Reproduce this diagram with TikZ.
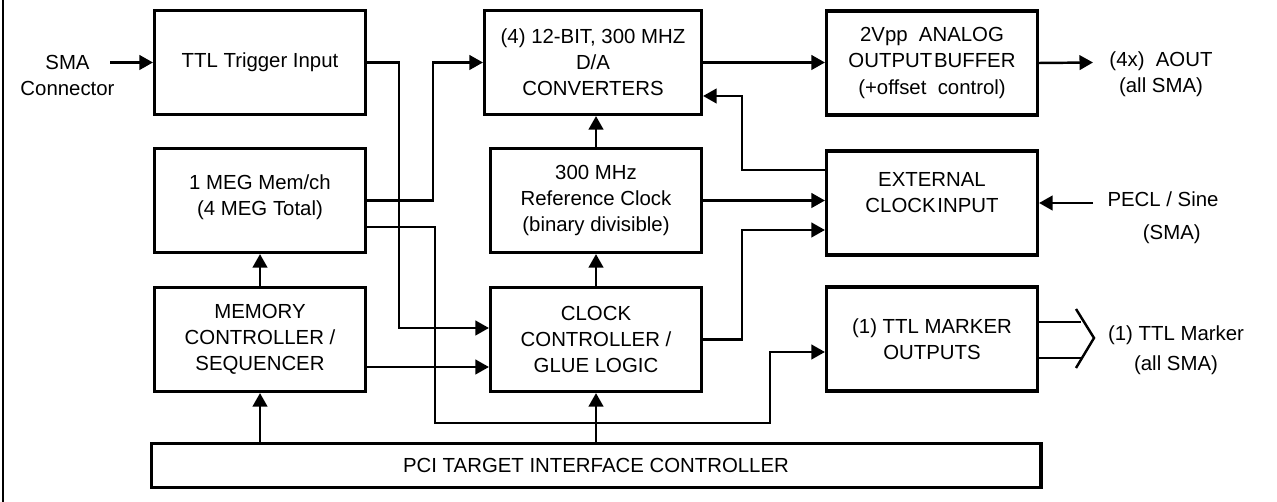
\documentclass[tikz,border=0pt]{standalone}
\usepackage{fontspec}
\setmainfont{Liberation Sans}
\usetikzlibrary{arrows.meta,calc}
\tikzset{
  blk/.style={draw=black,fill=white,line width=1.8pt,align=center,inner sep=2pt,
              minimum width=4.22cm,minimum height=2.08cm,
              font=\fontsize{11.6}{14.8}\selectfont},
  lbl/.style={align=center,inner sep=0pt,font=\fontsize{11.6}{14.8}\selectfont},
  sig/.style={-{Triangle[length=2.7mm,width=2.9mm]},line width=1.4pt},
  wire/.style={line width=1.4pt}
}
\begin{document}
\begin{tikzpicture}[x=0.02cm,y=-0.02cm]
  \useasboundingbox (0,0) rectangle (1277,502);
  \draw[wire] (3,0) -- (3,502);

  % left column
  \node[blk] (trig) at (260,62.5) {TTL Trigger Input};
  \node[blk] (mem) at (260,200.5) {1 MEG Mem/ch\\(4 MEG Total)\\[-9pt]\mbox{}};
  \node[blk] (memctl) at (260,339.5) {MEMORY\\CONTROLLER /\\SEQUENCER};

  % middle column
  \node[blk,minimum width=4.34cm] (dac) at (593,62.5)
    {(4) 12-BIT, 300 MHZ\\D/A\\CONVERTERS};
  \node[blk] (ref) at (596,200.5)
    {300 MHz\\Reference Clock\\(binary divisible)};
  \node[blk] (clk) at (596,339.5) {CLOCK\\CONTROLLER /\\GLUE LOGIC};

  % right column
  \node[blk] (buf) at (932,63)
    {2Vpp~~ANALOG\\OUTPUT\kern1pt BUFFER\\(+offset~~control)};
  \node[blk] (ext) at (932,203) {EXTERNAL\\CLOCK\kern1pt INPUT\\[-3pt]\mbox{}};
  \node[blk] (mark) at (932,339) {(1) TTL MARKER\\OUTPUTS};

  \node[blk,minimum width=17.8cm,minimum height=0.88cm] (pci) at (596,465.5)
    {PCI TARGET INTERFACE CONTROLLER};

  % outside labels
  \node[lbl] (sma) at (67.5,75) {SMA\\Connector};
  \node[lbl] (aout) at (1161,74) {(4x)~~AOUT\\(all SMA)};
  \node[lbl] (pecl) at (1163,218) {PECL / Sine\\[4pt]\hspace*{10pt}(SMA)};
  \node[lbl] (mout) at (1176,350) {(1) TTL Marker\\[2pt](all SMA)};

  \coordinate (smain) at (110,62.5);
  \coordinate (aoutend) at (1093,62.5);
  \coordinate (peclin) at (1093,203);

  % connectors
  \draw[sig] (smain) -- (trig.west);
  \draw[sig] (trig.east) -- ++(32,0) |- ($(clk.west)+(0,-11.5)$);
  \draw[sig] (mem.east) -- ++(66,0) |- (dac.west);
  \draw[sig] ($(mem.east)+(0,26.5)$) -- ++(68,0) -- ++(0,196) -- ++(335,0)
    |- ($(mark.west)+(0,13)$);
  \draw[sig] ($(memctl.east)+(0,27.5)$) -- ($(clk.west)+(0,27.5)$);
  \draw[sig] (memctl.north) -- (mem.south);
  \draw[sig] (pci.north -| memctl.south) -- (memctl.south);
  \draw[sig] (pci.north -| clk.south) -- (clk.south);
  \draw[sig] (clk.north) -- (ref.south);
  \draw[sig] (ref.north) -- (ref.north |- dac.south);
  \draw[sig] (dac.east) -- (dac.east -| buf.west);
  \draw[sig] (buf.east) -- (aoutend);
  \draw[sig] ($(ext.west)+(0,-33)$) -- ++(-83,0) |- ($(dac.east)+(0,33.5)$);
  \draw[sig] (ref.east) -- (ref.east -| ext.west);
  \draw[sig] (clk.east) -- ++(39,0) |- ($(ext.west)+(0,27)$);
  \draw[sig] (peclin) -- (ext.east);

  % marker output bus
  \draw[wire] ($(mark.east)+(0,-17)$) -- ++(42,0);
  \draw[wire] ($(mark.east)+(0,19)$) -- ++(42,0);
  \draw[wire] (1076,309) -- (1094,338) -- (1076,368);
\end{tikzpicture}
\end{document}
